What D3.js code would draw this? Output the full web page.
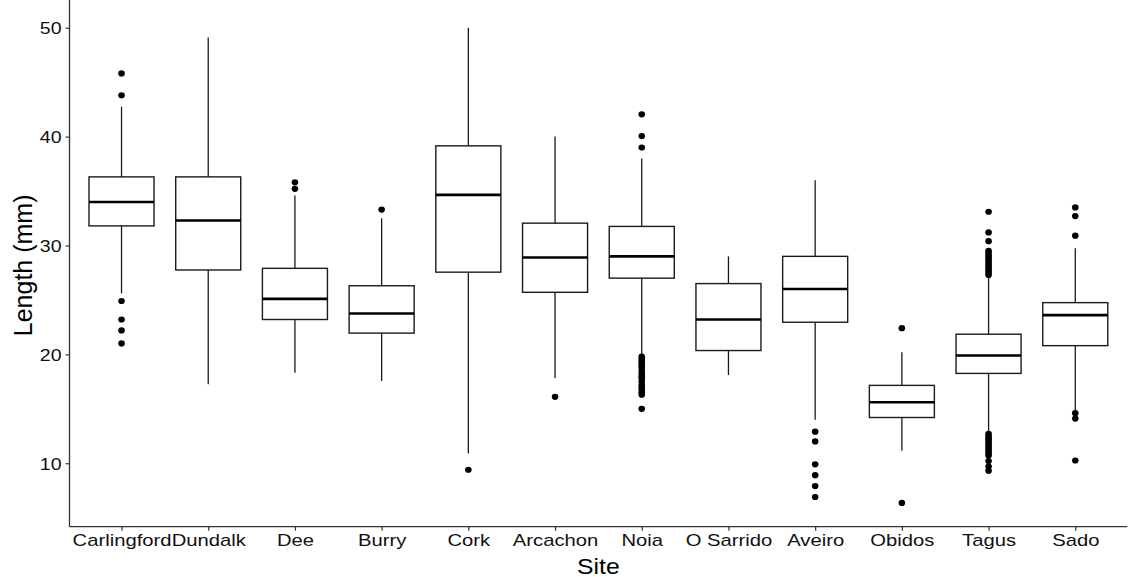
<!DOCTYPE html>
<html>
<head>
<meta charset="utf-8">
<script src="https://cdn.jsdelivr.net/npm/d3@7"></script>
<style>
  html, body { margin: 0; padding: 0; background: #fff; }
  svg { display: block; font-family: "Liberation Sans", Arial, sans-serif; }
</style>
</head>
<body>
<svg id="chart" width="1130" height="577"></svg>
<script>
// ---- data ----
const sites = ["Carlingford","Dundalk","Dee","Burry","Cork","Arcachon","Noia","O Sarrido","Aveiro","Obidos","Tagus","Sado"];
const whiskerLow  = [25.6, 17.25, 18.3, 17.55, 10.9, 17.8, 19.95, 18.1, 14.0, 11.15, 12.9, 14.75];
const q1          = [31.8, 27.75, 23.2, 21.95, 27.55, 25.7, 27.0, 20.35, 22.95, 14.2, 18.25, 20.8];
const medians     = [34.0, 32.3, 25.1, 23.75, 34.65, 28.9, 29.0, 23.2, 26.0, 15.6, 19.9, 23.6];
const q3          = [36.3, 36.3, 27.9, 26.3, 39.15, 32.05, 31.75, 26.5, 29.0, 17.15, 21.85, 24.75];
const whiskerHigh = [42.75, 49.1, 34.6, 32.5, 50.0, 40.0, 38.0, 29.0, 36.0, 20.2, 27.1, 29.75];
const outliers = [
  [45.8, 43.8, 24.9, 23.2, 22.2, 21.0],
  [],
  [35.8, 35.2],
  [33.3],
  [9.4],
  [16.1],
  [42.05, 40.05, 39.0, 19.8, 19.6, 19.4, 19.2, 19.0, 18.8, 18.5, 18.2, 18.0, 17.8, 17.5, 17.2, 17.0, 16.8, 16.5, 16.3, 15.0],
  [],
  [12.9, 12.0, 9.9, 8.9, 7.9, 6.9],
  [22.4, 6.35],
  [33.1, 31.2, 30.4, 29.5, 29.3, 29.1, 28.9, 28.7, 28.5, 28.3, 28.1, 27.9, 27.7, 27.5, 27.3,
   12.7, 12.5, 12.3, 12.1, 11.9, 11.7, 11.5, 11.3, 11.1, 10.9, 10.7, 10.2, 9.7, 9.3],
  [33.5, 32.7, 30.9, 14.6, 14.1, 10.25]
];
const yTicks = [10, 20, 30, 40, 50];
const xTitle = "Site";
const yTitle = "Length (mm)";

(function () {
// ---- layout ----
const svg = d3.select("#chart");
const pL = 69.5, pR = 1127.3, pT = 4, pB = 526.7;
const stretch = 1.19;

const x = d3.scaleLinear().domain([0.4, sites.length + 0.6]).range([pL, pR]);
const y = d3.scaleLinear().domain([4.17, 52.18]).range([pB, pT]);
const boxW = x(1.375) - x(1);

const rows = sites.map((s, i) => ({
  site: s, i: i + 1, lo: whiskerLow[i], q1: q1[i], med: medians[i], q3: q3[i], hi: whiskerHigh[i], out: outliers[i]
}));

const g = svg.append("g");

// whiskers
g.selectAll(".wh").data(rows).join("line")
  .attr("x1", d => x(d.i)).attr("x2", d => x(d.i))
  .attr("y1", d => y(d.lo)).attr("y2", d => y(d.hi))
  .attr("stroke", "#1a1a1a").attr("stroke-width", 1.3);

// boxes
g.selectAll(".bx").data(rows).join("rect")
  .attr("x", d => x(d.i) - boxW).attr("width", 2 * boxW)
  .attr("y", d => y(d.q3)).attr("height", d => y(d.q1) - y(d.q3))
  .attr("fill", "#fff").attr("stroke", "#1a1a1a").attr("stroke-width", 1.4);

// medians
g.selectAll(".md").data(rows).join("line")
  .attr("x1", d => x(d.i) - boxW).attr("x2", d => x(d.i) + boxW)
  .attr("y1", d => y(d.med)).attr("y2", d => y(d.med))
  .attr("stroke", "#000").attr("stroke-width", 2.6);

// outliers
const pts = rows.flatMap(d => d.out.map(v => ({ i: d.i, v })));
g.selectAll(".pt").data(pts).join("ellipse")
  .attr("cx", d => x(d.i)).attr("cy", d => y(d.v))
  .attr("rx", 3.3).attr("ry", 3.1).attr("fill", "#000");

// axes
const xAxis = d3.axisBottom(x).tickValues(rows.map(d => d.i)).tickFormat(v => sites[v - 1]).tickSize(4).tickSizeOuter(0);
const yAxis = d3.axisLeft(y).tickValues(yTicks).tickSize(4).tickSizeOuter(0);

const gx = svg.append("g").attr("transform", `translate(0,${pB})`).call(xAxis);
const gy = svg.append("g").attr("transform", `translate(${pL},0)`).call(yAxis);

gx.select(".domain").attr("d", `M${pL},0H${pR}`).attr("stroke", "#333").attr("stroke-width", 1.3);
gy.select(".domain").attr("d", `M0,${pT - 4}V${pB}`).attr("stroke", "#333").attr("stroke-width", 1.3);
svg.selectAll(".tick line").attr("stroke", "#333").attr("stroke-width", 1.2);

gx.selectAll(".tick text")
  .attr("y", 0).attr("dy", 0)
  .attr("transform", `translate(0,19.5) scale(${stretch},1)`)
  .attr("font-size", 17).attr("fill", "#111")
  .attr("font-family", "Liberation Sans, Arial, sans-serif");
gy.selectAll(".tick text")
  .attr("x", 0).attr("dy", 0)
  .attr("transform", `translate(-8,6) scale(1.15,1)`)
  .attr("font-size", 17).attr("fill", "#111")
  .attr("font-family", "Liberation Sans, Arial, sans-serif");

// titles
svg.append("text")
  .attr("transform", `translate(${(pL + pR) / 2},573.5) scale(1.15,1)`)
  .attr("text-anchor", "middle").attr("font-size", 21.5).attr("fill", "#000")
  .text(xTitle);
svg.append("text")
  .attr("transform", `translate(32,${(pT + pB) / 2}) rotate(-90)`)
  .attr("text-anchor", "middle").attr("font-size", 25).attr("fill", "#000")
  .text(yTitle);
})();
</script>
</body>
</html>
